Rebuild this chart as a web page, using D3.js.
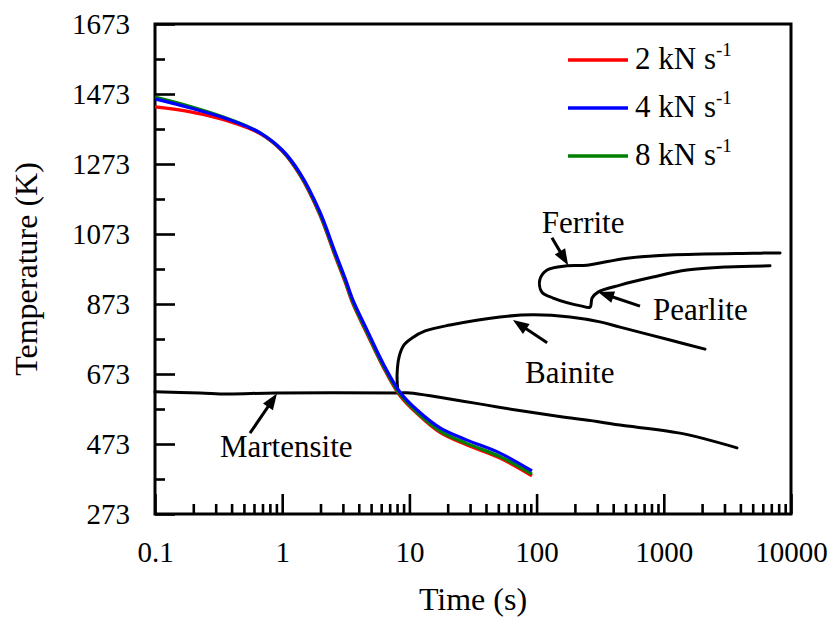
<!DOCTYPE html>
<html>
<head>
<meta charset="utf-8">
<script src="https://cdn.jsdelivr.net/npm/d3@7"></script>
<style>
  html, body { margin: 0; padding: 0; background: #fff; }
  svg { display: block; }
  text { font-family: "Liberation Serif", "Times New Roman", Times, serif; fill: #000; }
</style>
</head>
<body>
<svg id="chart" width="834" height="617"></svg>
<script>
// ---------------- DATA ----------------
const seriesNames = ["2 kN s", "4 kN s", "8 kN s"];
const seriesColors = ["#ff0000", "#0000ff", "#008000"];

// cooling curves (time in s, temperature in K)
const coolTime = [0.1, 0.19, 0.39, 0.67, 1.0, 1.38, 1.98, 2.6, 3.12, 3.6, 4.64, 6.2, 8.44, 11.5, 17.4, 28.4, 51.5, 92];
const temp2kN = [1436, 1422, 1394, 1360, 1310, 1241, 1127, 1011, 936, 873, 788, 694, 611, 560, 506, 470, 433, 382];
const temp4kN = [1459, 1433, 1399, 1362, 1313, 1247, 1136, 1022, 947, 884, 799, 704, 621, 570, 519, 484, 447, 396];
const temp8kN = [1464, 1437, 1400, 1362, 1311, 1243, 1130, 1015, 940, 877, 792, 697, 614, 563, 510, 474, 437, 387];

// martensite line
const martTime = [0.1, 0.226, 0.368, 0.893, 8.44, 10.1, 68.9, 161, 315, 453, 1340, 3760];
const martTemp = [622, 619, 616, 619, 619, 619, 570, 550, 536, 527, 504, 462];

// bainite curve
const bainTime = [8.13, 8.0, 8.3, 9.07, 10.5, 13.3, 20.9, 51.5, 93.7, 183, 315, 453, 1119, 2108];
const bainTemp = [619, 670, 722, 756, 776, 796, 813, 836, 842, 836, 822, 807, 770, 744];

// ferrite + pearlite curve (continuous)
const fpTime = [8200, 5025, 1119, 514, 249, 173, 121, 106, 110, 135, 227, 263, 273, 304, 453, 822, 1521, 3141, 6840];
const fpTemp = [1019, 1018, 1013, 1004, 984, 982, 970, 942, 907, 890, 867, 864, 890, 907, 927, 950, 970, 979, 982];

// annotations: label, label anchor (time, temp), arrow tail and tip (time, temp)
const annoLabels = ["Martensite", "Bainite", "Ferrite", "Pearlite"];
const annoLabelTime = [0.324, 81, 110, 822];
const annoLabelTemp = [436, 647, 1076, 827];
const arrowTailTime = [0.558, 121, 132, 650];
const arrowTailTemp = [504, 762, 1062, 867];
const arrowTipTime = [0.91, 65.2, 177, 304];
const arrowTipTemp = [617, 827, 984, 907];

// axes ticks
const xTickValues = [0.1, 1, 10, 100, 1000, 10000];
const xTickLabels = ["0.1", "1", "10", "100", "1000", "10000"];
const yTickValues = [273, 473, 673, 873, 1073, 1273, 1473, 1673];
const yTickLabels = ["273", "473", "673", "873", "1073", "1273", "1473", "1673"];
const xTitle = "Time (s)";
const yTitle = "Temperature (K)";

// ---------------- LAYOUT ----------------
const L = 155, R = 791, T = 24, B = 514;
const svg = d3.select("#chart");
const x = d3.scaleLog().domain([0.1, 10000]).range([L, R]);
const y = d3.scaleLinear().domain([273, 1673]).range([B, T]);

// minor ticks
const xMinor = [];
[0.1, 1, 10, 100, 1000].forEach(d => { for (let m = 2; m <= 9; m++) xMinor.push(+(d * m).toPrecision(6)); });
const yMinor = yTickValues.slice(0, -1).map(v => v + 100);

const axisStroke = 2.6;

// bottom axis major
const gx = svg.append("g").attr("transform", `translate(0,${B})`)
  .call(d3.axisBottom(x).tickValues(xTickValues).tickFormat((d, i) => xTickLabels[i])
    .tickSizeInner(-20).tickSizeOuter(0).tickPadding(27));
gx.select(".domain").remove();
gx.selectAll("line").attr("stroke", "#000").attr("stroke-width", axisStroke);
gx.selectAll("text").style("font-size", "29px").attr("fill", "#000");

// bottom axis minor
const gxm = svg.append("g").attr("transform", `translate(0,${B})`)
  .call(d3.axisBottom(x).tickValues(xMinor).tickFormat("").tickSizeInner(-10).tickSizeOuter(0));
gxm.select(".domain").remove();
gxm.selectAll("line").attr("stroke", "#000").attr("stroke-width", axisStroke);

// left axis major
const gy = svg.append("g").attr("transform", `translate(${L},0)`)
  .call(d3.axisLeft(y).tickValues(yTickValues).tickFormat((d, i) => yTickLabels[i])
    .tickSizeInner(-20).tickSizeOuter(0).tickPadding(25));
gy.select(".domain").remove();
gy.selectAll("line").attr("stroke", "#000").attr("stroke-width", axisStroke);
gy.selectAll("text").style("font-size", "29px").attr("fill", "#000");

// left axis minor
const gym = svg.append("g").attr("transform", `translate(${L},0)`)
  .call(d3.axisLeft(y).tickValues(yMinor).tickFormat("").tickSizeInner(-10).tickSizeOuter(0));
gym.select(".domain").remove();
gym.selectAll("line").attr("stroke", "#000").attr("stroke-width", axisStroke);

// frame
svg.append("rect").attr("x", L).attr("y", T).attr("width", R - L).attr("height", B - T)
  .attr("fill", "none").attr("stroke", "#000").attr("stroke-width", 3);

// axis titles
svg.append("text").attr("x", (L + R) / 2).attr("y", 610).attr("text-anchor", "middle")
  .style("font-size", "32px").text(xTitle);
svg.append("text").attr("transform", `translate(37,${(T + B) / 2}) rotate(-90)`)
  .attr("text-anchor", "middle").style("font-size", "32px").text(yTitle);

// ---------------- CURVES ----------------
const lineSmooth = d3.line().x(d => x(d[0])).y(d => y(d[1])).curve(d3.curveCatmullRom.alpha(0.5));

function drawBlack(ts, vs) {
  svg.append("path").datum(ts.map((t, i) => [t, vs[i]]))
    .attr("d", lineSmooth).attr("fill", "none").attr("stroke", "#000")
    .attr("stroke-width", 3).attr("stroke-linejoin", "round").attr("stroke-linecap", "round");
}
drawBlack(martTime, martTemp);
drawBlack(bainTime, bainTemp);
drawBlack(fpTime, fpTemp);

const coolSeries = [temp2kN, temp4kN, temp8kN];
[0, 2, 1].forEach(k => {
  svg.append("path").datum(coolTime.map((t, i) => [t, coolSeries[k][i]]))
    .attr("d", lineSmooth).attr("fill", "none").attr("stroke", seriesColors[k])
    .attr("stroke-width", 3.2).attr("stroke-linejoin", "round");
});

// ---------------- ANNOTATIONS ----------------
annoLabels.forEach((lab, i) => {
  svg.append("text").attr("x", x(annoLabelTime[i])).attr("y", y(annoLabelTemp[i]))
    .style("font-size", "31px").text(lab);
  const x0 = x(arrowTailTime[i]), y0 = y(arrowTailTemp[i]);
  const x1 = x(arrowTipTime[i]), y1 = y(arrowTipTemp[i]);
  const ang = Math.atan2(y1 - y0, x1 - x0);
  const hl = 16, hw = 6;
  const bx = x1 - hl * Math.cos(ang), by = y1 - hl * Math.sin(ang);
  svg.append("line").attr("x1", x0).attr("y1", y0).attr("x2", bx + 2 * Math.cos(ang)).attr("y2", by + 2 * Math.sin(ang))
    .attr("stroke", "#000").attr("stroke-width", 3);
  const px = -Math.sin(ang), py = Math.cos(ang);
  svg.append("path")
    .attr("d", `M${x1},${y1}L${bx + hw * px},${by + hw * py}L${bx - hw * px},${by - hw * py}Z`)
    .attr("fill", "#000");
});

// ---------------- LEGEND ----------------
const legY0 = 60, legStep = 48;
seriesNames.forEach((name, i) => {
  const ly = legY0 + i * legStep;
  svg.append("line").attr("x1", 568).attr("x2", 628).attr("y1", ly).attr("y2", ly)
    .attr("stroke", seriesColors[i]).attr("stroke-width", 3.5);
  const t = svg.append("text").attr("x", 635).attr("y", ly + 9).style("font-size", "31px");
  t.append("tspan").text(name);
  t.append("tspan").attr("dy", -13).style("font-size", "19px").text("-1");
});
</script>
</body>
</html>
